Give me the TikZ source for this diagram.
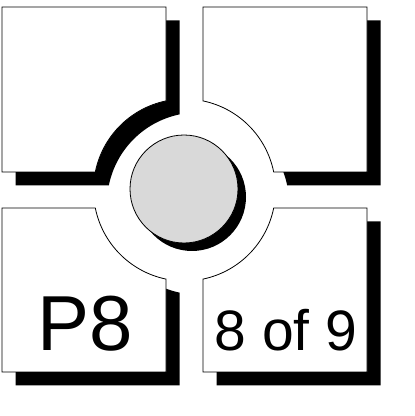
\documentclass[tikz,border=0pt]{standalone}
\usepackage{fontspec}
\setmainfont{Liberation Sans}
\begin{document}
\begin{tikzpicture}[x=1pt,y=1pt,
  tile/.style={fill=white,draw=black,line width=0.8pt},
  tileshadow/.style={fill=black,shift={(13.5,-13.5)}},
  disc/.style={fill=black!15,draw=black,line width=0.8pt},
  discshadow/.style={fill=black},
  bigtext/.style={anchor=base,inner sep=0pt,font=\fontsize{78}{80}\selectfont},
  midtext/.style={anchor=base,inner sep=0pt,font=\fontsize{57}{60}\selectfont}]
\useasboundingbox (0,0) rectangle (415,416);
\def\cc{184.5,226}
\newcommand\pathTL{(2,244) -- (2,409) -- (166,409) -- ([shift={(\cc)}]101.73:91) arc[start angle=101.73,end angle=168.59,radius=91] -- cycle}
\newcommand\pathTR{(203,409) -- (367,409) -- (367,244) -- ([shift={(\cc)}]11.41:91) arc[start angle=11.41,end angle=78.27,radius=91] -- cycle}
\newcommand\pathBL{(2,44) -- (2,208) -- ([shift={(\cc)}]191.41:91) arc[start angle=191.41,end angle=258.27,radius=91] -- (166,44) -- cycle}
\newcommand\pathBR{(203,44) -- ([shift={(\cc)}]281.73:91) arc[start angle=281.73,end angle=348.59,radius=91] -- (367,208) -- (367,44) -- cycle}
% shadows (ring area kept clear except for the upper-left one)
\fill[tileshadow] \pathTR;
\fill[tileshadow] \pathBL;
\fill[tileshadow] \pathBR;
\fill[white] (\cc) circle[radius=91];
\fill[tileshadow] \pathTL;
% tiles
\path[tile] \pathTL;
\path[tile] \pathTR;
\path[tile] \pathBL;
\path[tile] \pathBR;
% central disc
\fill[discshadow] (192,219) circle[radius=54];
\path[disc] (184,227) circle[radius=54];
% labels
\node[bigtext] (p8) at (85,65) {P8};
\node[midtext] (count) at (286,65) {8 of 9};
\end{tikzpicture}
\end{document}
